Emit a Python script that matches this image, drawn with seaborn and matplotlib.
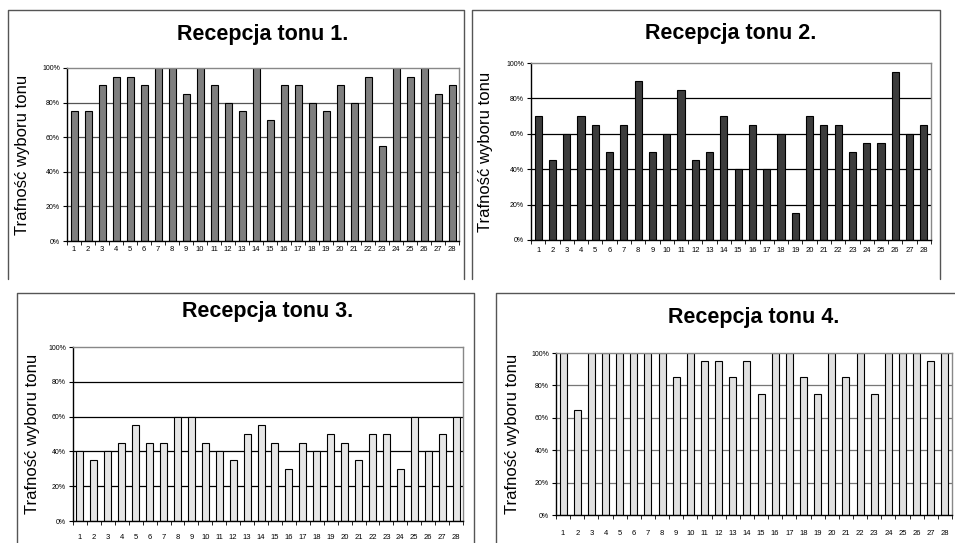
import numpy as np
import pandas as pd
import matplotlib.pyplot as plt
import seaborn as sns
from matplotlib.lines import Line2D

sns.set_style('white')
plt.rcParams['font.family'] = ['Liberation Sans', 'DejaVu Sans']
plt.rcParams['text.color'] = 'black'
plt.rcParams['xtick.color'] = 'black'
plt.rcParams['ytick.color'] = 'black'

osoby = list(range(1, 29))
ton1 = [75, 75, 90, 95, 95, 90, 100, 100, 85, 100, 90, 80, 75, 100, 70, 90, 90, 80, 75, 90, 80, 95, 55, 100, 95, 100, 85, 90]
ton2 = [70, 45, 60, 70, 65, 50, 65, 90, 50, 60, 85, 45, 50, 70, 40, 65, 40, 60, 15, 70, 65, 65, 50, 55, 55, 95, 60, 65]
ton3 = [40, 35, 40, 45, 55, 45, 45, 60, 60, 45, 40, 35, 50, 55, 45, 30, 45, 40, 50, 45, 35, 50, 50, 30, 60, 40, 50, 60]
ton4 = [100, 65, 100, 100, 100, 100, 100, 100, 85, 100, 95, 95, 85, 95, 75, 100, 100, 85, 75, 100, 85, 100, 75, 100, 100, 100, 95, 100]

W, H = 955, 543
fig = plt.figure(figsize=(W / 100, H / 100), dpi=100)

# panel: data, title, bar colour, grid colour, frame (l, t, r, b px), axes box (px), title y, ylabel x, x label pad
panels = [
    (ton1, 'Recepcja tonu 1.', '#7f7f7f', '#555555', (8, 10, 464, 279), (67, 68, 459, 241), 35, 22, 3.6),
    (ton2, 'Recepcja tonu 2.', '#3c3c3c', '#000000', (472, 10, 940, 279), (531, 63, 931, 240), 33, 485, 5),
    (ton3, 'Recepcja tonu 3.', '#e6e6e6', '#000000', (17, 293, 474, 560), (73, 347, 463, 521), 312, 33, 9.5),
    (ton4, 'Recepcja tonu 4.', '#e0e0e0', '#777777', (496, 293, 970, 560), (556, 353, 952, 515), 317, 512, 10.8),
]

def fx(px):
    return px / W

def fy(py):
    return 1 - py / H

for vals, title, color, gcol, frame, box, ty, lx, xpad in panels:
    l, t, r, b = frame
    # frame without bottom edge, as in the reference
    fig.add_artist(Line2D([fx(l), fx(l), fx(r), fx(r)], [fy(b), fy(t), fy(t), fy(b)],
                          transform=fig.transFigure, color='#555555', linewidth=1.0))
    x0, y0, x1, y1 = box
    ax = fig.add_axes([fx(x0), fy(y1), (x1 - x0) / W, (y1 - y0) / H])
    for g in range(20, 100, 20):
        ax.axhline(g, color=gcol, linewidth=0.9, zorder=0.5)
    df = pd.DataFrame({'osoba': osoby, 'wynik': vals})
    sns.barplot(data=df, x='osoba', y='wynik', ax=ax, color=color, saturation=1,
                edgecolor='black', linewidth=0.8, width=0.5)
    for p in ax.patches:
        p.set_zorder(2)
    ax.set_ylim(0, 100)
    ax.set_xlim(-0.5, len(osoby) - 0.5)
    ax.set_yticks(range(0, 101, 20))
    ax.set_yticklabels([f'{v}%' for v in range(0, 101, 20)], fontsize=5)
    ax.set_xticks(range(len(osoby)))
    ax.set_xticklabels(osoby, fontsize=5.5)
    ax.set_xticks(np.arange(-0.5, len(osoby), 1), minor=True)
    ax.tick_params(axis='x', which='major', length=0, pad=xpad)
    ax.tick_params(axis='x', which='minor', length=3, direction='out', color='black', bottom=True)
    ax.tick_params(axis='y', length=3, direction='out', color='black', left=True, pad=2)
    for side in ['top', 'right']:
        ax.spines[side].set_color('#888888')
    ax.spines['left'].set_color('black')
    ax.spines['bottom'].set_color('black')
    for sp in ax.spines.values():
        sp.set_linewidth(1.0)
        sp.set_zorder(3)
    ax.set_xlabel('')
    ax.set_ylabel('')
    fig.text((x0 + x1) / 2 / W, fy(ty), title, ha='center', va='center',
             fontsize=15.5, fontweight='bold')
    fig.text(fx(lx), fy((y0 + y1) / 2), 'Trafność wyboru tonu', ha='center', va='center',
             rotation=90, fontsize=12)

fig.savefig('out.png', dpi=100)
